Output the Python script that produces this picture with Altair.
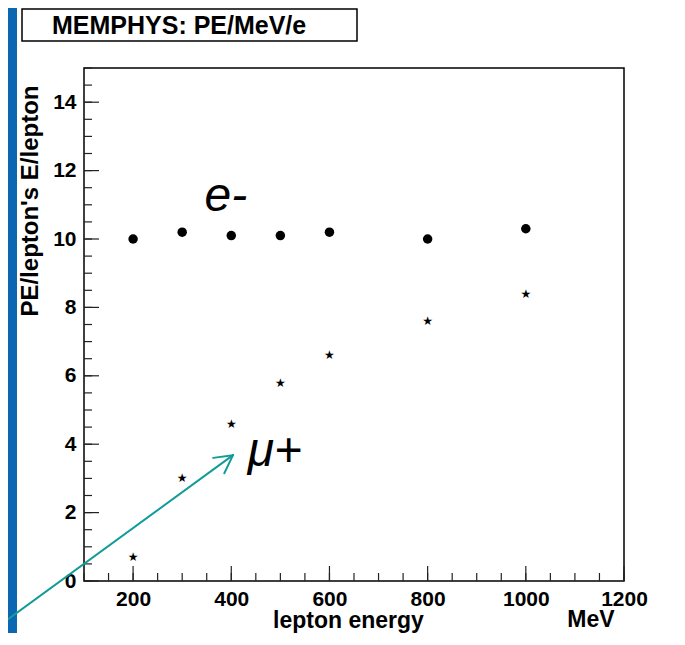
import altair as alt
import pandas as pd

# ---- data ----
energy = [200, 300, 400, 500, 600, 800, 1000]
pe_electron = [10.0, 10.2, 10.1, 10.1, 10.2, 10.0, 10.3]
pe_muon = [0.7, 3.0, 4.6, 5.8, 6.6, 7.6, 8.4]

x_label_values = [200, 400, 600, 800, 1000, 1200]
y_label_values = [0, 2, 4, 6, 8, 10, 12, 14]
x_minor_ticks = [100, 150, 200, 250, 300, 350, 400, 450, 500, 550, 600, 650,
                 700, 750, 800, 850, 900, 950, 1000, 1050, 1100, 1150, 1200]
y_minor_ticks = [0, 0.5, 1, 1.5, 2, 2.5, 3, 3.5, 4, 4.5, 5, 5.5, 6, 6.5, 7, 7.5,
                 8, 8.5, 9, 9.5, 10, 10.5, 11, 11.5, 12, 12.5, 13, 13.5, 14, 14.5, 15]

# annotation arrow in data coordinates: shaft (tail outside the frame) + two head arms
arrow_x0 = [-71, 363.2, 385.8]
arrow_y0 = [-1.29, 3.60, 3.15]
arrow_x1 = [403.5, 403.5, 403.5]
arrow_y1 = [3.68, 3.68, 3.68]
label_text = ["e-", "\u03bc+"]
label_x = [389, 489]
label_y = [10.82, 3.36]

X_DOMAIN = [100, 1200]
Y_DOMAIN = [0, 15]
FONT = "Liberation Sans"
TEAL = "#129c99"
BLUE = "#0b67b2"
TICK = "#222222"
W, H = 540, 513
PAD_TOP, PAD_BOTTOM = 60, 52

xscale = alt.Scale(domain=X_DOMAIN, nice=False, zero=False)
yscale = alt.Scale(domain=Y_DOMAIN, nice=False, zero=False)

df_e = pd.DataFrame({"energy": energy, "pe": pe_electron})
df_mu = pd.DataFrame({"energy": energy, "pe": pe_muon, "m": ["\u2605"] * len(energy)})
df_arrow = pd.DataFrame({"x0": arrow_x0, "y0": arrow_y0, "x1": arrow_x1, "y1": arrow_y1})
df_labels = pd.DataFrame({"lab": label_text, "lx": label_x, "ly": label_y})
df_xmaj = pd.DataFrame({"v": x_label_values})
df_xmin = pd.DataFrame({"v": x_minor_ticks})
df_ymaj = pd.DataFrame({"v": y_label_values})
df_ymin = pd.DataFrame({"v": y_minor_ticks})
one = pd.DataFrame({"k": [0]})

band = alt.Chart(one).mark_rect(color=BLUE).encode(
    x=alt.value(-76), x2=alt.value(-67), y=alt.value(-PAD_TOP), y2=alt.value(H + PAD_BOTTOM))
box = alt.Chart(one).mark_rect(fill="white", stroke="black", strokeWidth=1.5).encode(
    x=alt.value(-62), x2=alt.value(273), y=alt.value(-59), y2=alt.value(-27))
header = alt.Chart(one).mark_text(
    text="MEMPHYS: PE/MeV/e", font=FONT, fontSize=25, fontWeight="bold",
    align="left", baseline="alphabetic", color="black").encode(
    x=alt.value(-32), y=alt.value(-34))
mev = alt.Chart(one).mark_text(
    text="MeV", font=FONT, fontSize=23, fontWeight="bold",
    align="center", baseline="alphabetic", color="black").encode(
    x=alt.value(507), y=alt.value(H + 46))

# electron points carry the labelled axes (first data layer, so its axis wins)
electrons = alt.Chart(df_e).mark_circle(size=90, color="black", opacity=1).encode(
    x=alt.X("energy:Q", scale=xscale, axis=alt.Axis(
        orient="bottom", values=x_label_values, format="d", ticks=False, tickSize=0,
        domain=False, grid=False, labelPadding=7, labelFont=FONT, labelFontSize=21,
        labelFontWeight="bold", labelColor="black", labelFlush=False, labelOverlap=False,
        title="lepton energy", titleFont=FONT, titleFontSize=23, titleFontWeight="bold",
        titleColor="black", titleX=264, titleY=46, titleAlign="center",
        titleBaseline="alphabetic")),
    y=alt.Y("pe:Q", scale=yscale, axis=alt.Axis(
        orient="left", values=y_label_values, format="d", ticks=False, tickSize=0,
        domain=False, grid=False, labelPadding=8, labelFont=FONT, labelFontSize=21,
        labelFontWeight="bold", labelColor="black", labelFlush=False, labelOverlap=False,
        title="PE/lepton's E/lepton", titleFont=FONT, titleFontSize=24,
        titleFontWeight="bold", titleColor="black", titleAngle=270, titleX=-54,
        titleY=17, titleAlign="right", titleBaseline="middle")),
)

# inward ticks (ROOT style), positioned through the scales
xmin_t = alt.Chart(df_xmin).mark_rule(color=TICK, strokeWidth=1.2).encode(
    x=alt.X("v:Q", scale=xscale), y=alt.value(H), y2=alt.value(H - 8))
xmaj_t = alt.Chart(df_xmaj).mark_rule(color=TICK, strokeWidth=1.2).encode(
    x=alt.X("v:Q", scale=xscale), y=alt.value(H), y2=alt.value(H - 15))
ymin_t = alt.Chart(df_ymin).mark_rule(color=TICK, strokeWidth=1.2).encode(
    y=alt.Y("v:Q", scale=yscale), x=alt.value(0), x2=alt.value(8))
ymaj_t = alt.Chart(df_ymaj).mark_rule(color=TICK, strokeWidth=1.2).encode(
    y=alt.Y("v:Q", scale=yscale), x=alt.value(0), x2=alt.value(15))

arrow = alt.Chart(df_arrow).mark_rule(color=TEAL, strokeWidth=2, strokeCap="round").encode(
    x=alt.X("x0:Q", scale=xscale),
    x2="x1:Q",
    y=alt.Y("y0:Q", scale=yscale),
    y2="y1:Q",
)

labels = alt.Chart(df_labels).mark_text(
    font=FONT, fontSize=48, fontStyle="italic", align="center",
    baseline="alphabetic", color="black").encode(
    x=alt.X("lx:Q", scale=xscale),
    y=alt.Y("ly:Q", scale=yscale),
    text="lab:N",
)

muons = alt.Chart(df_mu).mark_text(
    font="DejaVu Sans", fontSize=12, align="center", baseline="middle",
    color="black").encode(
    x=alt.X("energy:Q", scale=xscale),
    y=alt.Y("pe:Q", scale=yscale),
    text="m:N",
)

chart = alt.layer(
    band, box, header, electrons, xmin_t, xmaj_t, ymin_t, ymaj_t,
    mev, arrow, labels, muons
).properties(
    width=W, height=H,
    padding={"left": 76, "top": PAD_TOP, "right": 40, "bottom": PAD_BOTTOM},
    autosize=alt.AutoSizeParams(type="none"),
).configure(
    background="white"
).configure_view(
    stroke="black", strokeWidth=1.5
)

chart.save("out.html", embed_options={"renderer": "svg", "actions": False})
